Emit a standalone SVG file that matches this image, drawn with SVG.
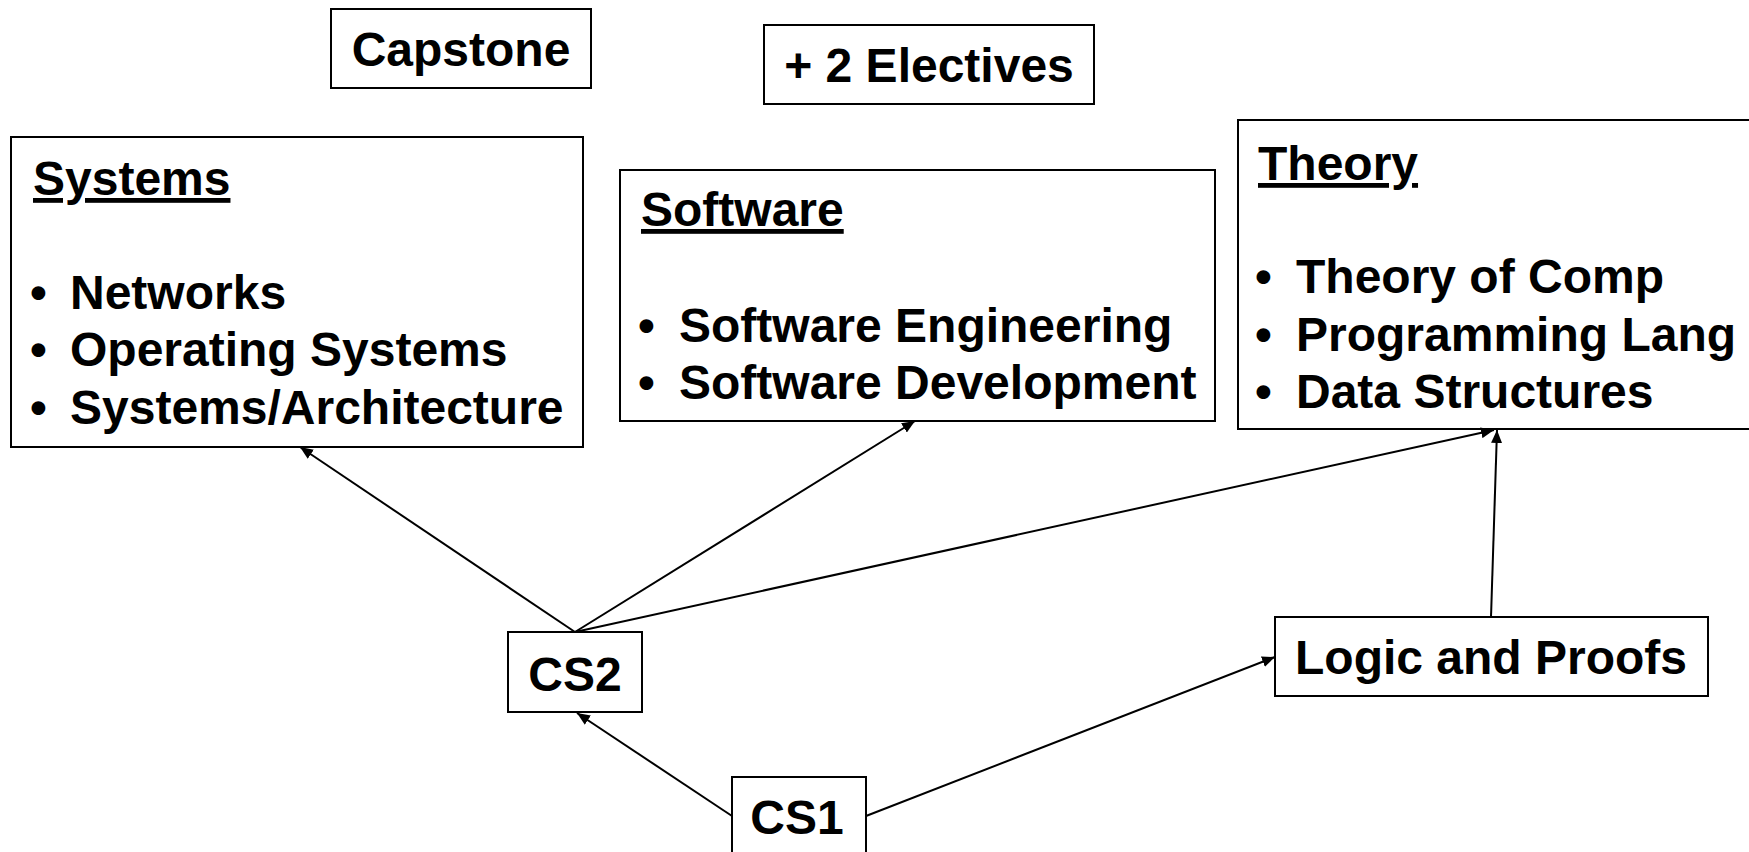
<svg xmlns="http://www.w3.org/2000/svg" width="1749" height="852" viewBox="0 0 1749 852">
<style>
.box{fill:#fff;stroke:#000;stroke-width:2}
.t{font-family:"Liberation Sans",Arial,sans-serif;font-weight:bold;font-size:48px;fill:#000}
.c{text-anchor:middle}
.u{text-decoration:underline}
.edge{stroke:#000;stroke-width:2;fill:none;marker-end:url(#arr)}
</style>
<defs>
<marker id="arr" markerUnits="userSpaceOnUse" markerWidth="13" markerHeight="11" viewBox="0 0 13 11" refX="13" refY="5.5" orient="auto">
<path d="M0,0 L13,5.5 L0,11 z" fill="#000"/>
</marker>
</defs>
<rect width="1749" height="852" fill="#fff"/>
<g id="capstone"><rect class="box" x="331" y="9" width="260" height="79"/><text class="t c" x="461" y="66">Capstone</text></g>
<g id="electives"><rect class="box" x="764" y="25" width="330" height="79"/><text class="t c" x="929" y="82">+ 2 Electives</text></g>
<g id="systems"><rect class="box" x="11" y="137" width="572" height="310"/>
<text class="t u" x="33" y="195">Systems</text>
<text class="t" x="30" y="309">•</text><text class="t" x="70" y="309">Networks</text>
<text class="t" x="30" y="366">•</text><text class="t" x="70" y="366">Operating Systems</text>
<text class="t" x="30" y="424">•</text><text class="t" x="70" y="424">Systems/Architecture</text>
</g>
<g id="software"><rect class="box" x="620" y="170" width="595" height="251"/>
<text class="t u" x="641" y="226">Software</text>
<text class="t" x="638" y="342">•</text><text class="t" x="679" y="342">Software Engineering</text>
<text class="t" x="638" y="399">•</text><text class="t" x="679" y="399">Software Development</text>
</g>
<g id="theory"><rect class="box" x="1238" y="120" width="530" height="309"/>
<text class="t u" x="1258" y="180">Theory</text>
<text class="t" x="1255" y="293">•</text><text class="t" x="1296" y="293">Theory of Comp</text>
<text class="t" x="1255" y="351">•</text><text class="t" x="1296" y="351">Programming Lang</text>
<text class="t" x="1255" y="408">•</text><text class="t" x="1296" y="408">Data Structures</text>
</g>
<g id="logic"><rect class="box" x="1275" y="617" width="433" height="79"/><text class="t c" x="1491" y="674">Logic and Proofs</text></g>
<g id="cs2"><rect class="box" x="508" y="632" width="134" height="80"/><text class="t c" x="575" y="691">CS2</text></g>
<g id="cs1"><rect class="box" x="732" y="777" width="134" height="85"/><text class="t c" x="797" y="834">CS1</text></g>
<g id="connectors">
<line class="edge" x1="732" y1="816" x2="577" y2="713"/>
<line class="edge" x1="866" y1="816" x2="1275" y2="657"/>
<line class="edge" x1="575" y1="632" x2="300" y2="447"/>
<line class="edge" x1="575" y1="632" x2="915" y2="421"/>
<line class="edge" x1="575" y1="632" x2="1494" y2="430"/>
<line class="edge" x1="1491" y1="617" x2="1497" y2="430"/>
</g>
</svg>
